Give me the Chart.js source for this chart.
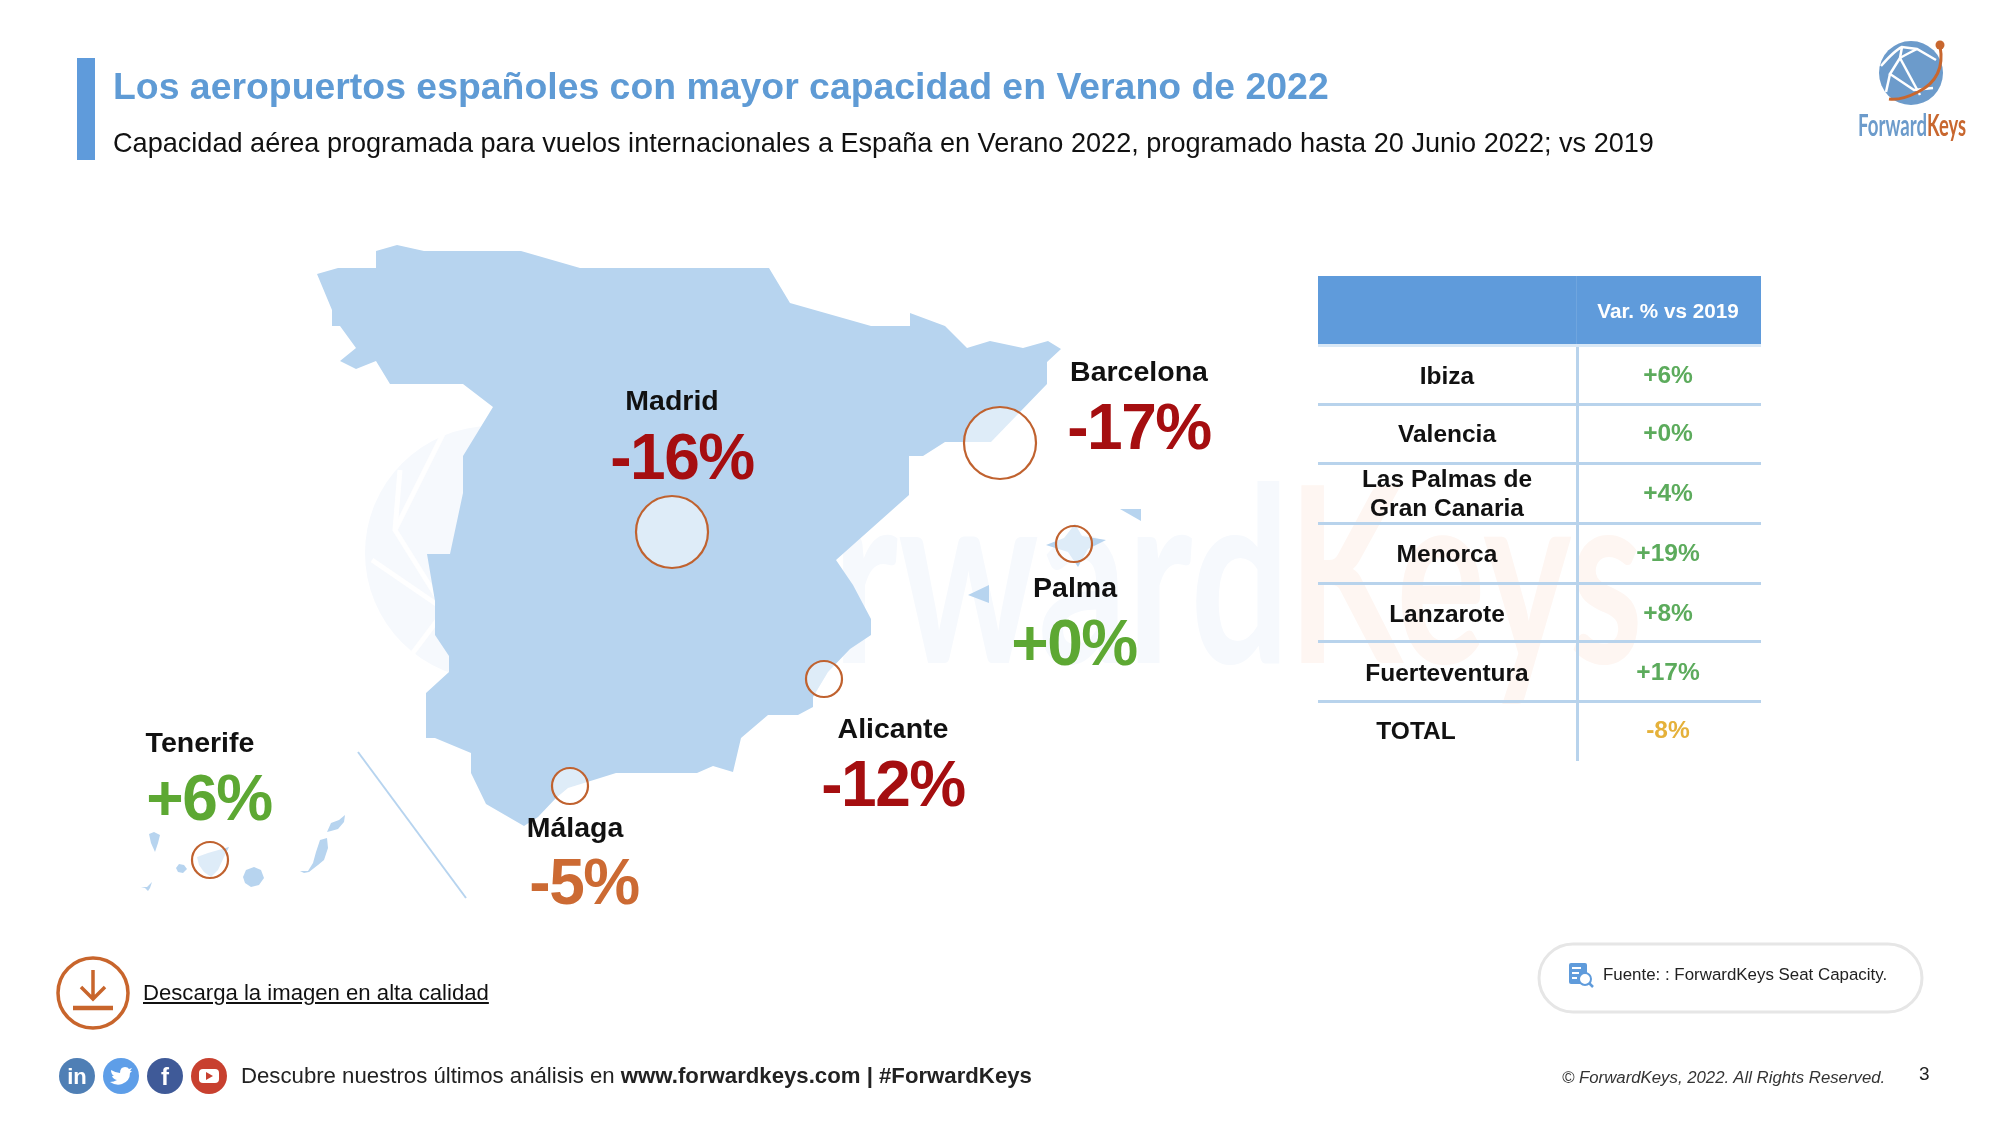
<!DOCTYPE html>
<html lang="es">
<head>
<meta charset="utf-8">
<title>Los aeropuertos españoles con mayor capacidad en Verano de 2022</title>
<script src="https://cdn.jsdelivr.net/npm/chart.js@4/dist/chart.umd.js"></script>
<style>
  html, body { margin: 0; padding: 0; background: #fff; }
  body { width: 2000px; height: 1125px; position: relative; overflow: hidden; font-family: "Liberation Sans", Arial, sans-serif; color: #111; }
  .abs { position: absolute; white-space: nowrap; }
  #watermark, #decor { position: absolute; left: 0; top: 0; }
  #map { position: absolute; left: 0; top: 0; }
  .cell { position: absolute; transform: translate(-50%, -50%); white-space: nowrap; font-weight: bold; text-align: center; }
  .hline { position: absolute; height: 2.5px; background: #B8D3EC; }
</style>
</head>
<body>

<!-- faint brand watermark behind the map -->
<svg id="watermark" width="2000" height="1125">
  <circle cx="492" cy="553" r="127" fill="#F6F9FD"/>
  <g stroke="#fff" stroke-width="5" fill="none">
    <path d="M400 470 L395 530 L445 610 L400 670"/>
    <path d="M445 430 L395 530"/>
    <path d="M445 610 L372 560"/>
  </g>
  <text x="640" y="663" font-family="Lato" font-weight="bold" font-size="245" fill="#F6F9FD" textLength="650" lengthAdjust="spacingAndGlyphs">Forward</text>
  <text x="1288" y="663" font-family="Lato" font-weight="bold" font-size="245" fill="#FEF6F2" textLength="355" lengthAdjust="spacingAndGlyphs">Keys</text>
</svg>

<canvas id="map" width="2000" height="1125"></canvas>

<svg id="decor" width="2000" height="1125">
  <!-- logo -->
  <circle cx="1911" cy="73" r="32" fill="#6C9BCB"/>
  <g stroke="#fff" stroke-width="2.5" fill="none">
    <path d="M1881 66 Q1895 50 1902 47 L1917 49 L1936 60"/>
    <path d="M1902 47 L1900 58 L1890 74 L1914 90 L1933 88"/>
    <path d="M1917 49 Q1905 55 1900 58"/>
    <path d="M1890 74 L1886 92"/>
    <path d="M1900 58 L1920 95"/>
  </g>
  <path d="M1940 46 Q1946 78 1918 92 Q1900 101 1889 99" stroke="#C8672F" stroke-width="3" fill="none"/>
  <circle cx="1940" cy="45" r="4.5" fill="#C8672F"/>
  <text x="1858" y="136" font-family="Lato" font-weight="bold" font-size="31" fill="#6C9BCB" textLength="69" lengthAdjust="spacingAndGlyphs">Forward</text>
  <text x="1927" y="136" font-family="Lato" font-weight="bold" font-size="31" fill="#C8672F" textLength="39" lengthAdjust="spacingAndGlyphs">Keys</text>

  <!-- download icon -->
  <circle cx="93" cy="993" r="35" fill="none" stroke="#C8652C" stroke-width="3.5"/>
  <path d="M93 970 V999 M81 987 L93 999 L105 987" fill="none" stroke="#C8652C" stroke-width="3.5"/>
  <path d="M73 1008 H113" stroke="#C8652C" stroke-width="4.5"/>

  <!-- social icons -->
  <g transform="translate(0,-2)">
    <circle cx="77" cy="1078" r="18" fill="#4F7FB5"/>
    <text x="77" y="1086" font-family="Liberation Sans" font-weight="bold" font-size="22" fill="#fff" text-anchor="middle">in</text>
    <circle cx="121" cy="1078" r="18" fill="#5E9EE8"/>
    <path d="M111 1072 Q116 1075 120 1075 Q120 1069 125 1069 Q128 1069 129 1071 L132 1070 L130 1073 L132 1073 L130 1075 Q130 1083 122 1086 Q116 1088 110 1084 Q114 1084 117 1082 Q113 1081 112 1078 L114 1078 Q111 1076 111 1072 Z" fill="#fff"/>
    <circle cx="165" cy="1078" r="18" fill="#3F5A98"/>
    <text x="165" y="1087" font-family="Liberation Sans" font-weight="bold" font-size="24" fill="#fff" text-anchor="middle">f</text>
    <circle cx="209" cy="1078" r="18" fill="#C8402F"/>
    <rect x="199" y="1071" width="20" height="14" rx="4" fill="#fff"/>
    <path d="M206 1074 L213 1078 L206 1082 Z" fill="#C8402F"/>
  </g>

  <!-- source pill -->
  <rect x="1539" y="944" width="383" height="68" rx="34" fill="#fff" stroke="#E6E6E6" stroke-width="3"/>
  <g transform="translate(-5,-3)">
    <rect x="1574" y="966" width="18" height="21" rx="2" fill="#5F9BDB"/>
    <path d="M1577 971 H1586 M1577 976 H1584 M1577 981 H1582" stroke="#fff" stroke-width="2"/>
    <circle cx="1590" cy="982" r="6" fill="#fff" stroke="#5F9BDB" stroke-width="2"/>
    <path d="M1594 986 L1598 990" stroke="#5F9BDB" stroke-width="2.5"/>
  </g>
</svg>

<div class="abs" style="left:77px;top:58px;width:18px;height:102px;background:#5F9BDB"></div>
<div class="abs" style="left:113px;top:65px;font-size:37.4px;font-weight:bold;color:#5F9BD5">Los aeropuertos españoles con mayor capacidad en Verano de 2022</div>
<div class="abs" style="left:113px;top:127px;font-size:27.1px">Capacidad aérea programada para vuelos internacionales a España en Verano 2022, programado hasta 20 Junio 2022; vs 2019</div>

<div id="table"></div>

<div class="abs" style="left:143px;top:980px;font-size:22.15px;text-decoration:underline">Descarga la imagen en alta calidad</div>
<div class="abs" style="left:241px;top:1063px;font-size:22.2px;color:#222">Descubre nuestros últimos análisis en <b>www.forwardkeys.com | #ForwardKeys</b></div>
<div class="abs" style="left:1603px;top:965px;font-size:16.9px;color:#222">Fuente: : ForwardKeys Seat Capacity.</div>
<div class="abs" style="left:1562px;top:1068px;font-size:16.8px;font-style:italic;color:#333">© ForwardKeys, 2022. All Rights Reserved.</div>
<div class="abs" style="left:1919px;top:1063px;font-size:19px;color:#222">3</div>

<script>
// DATA

// main airports on the map, % vs 2019
const airports = ['Madrid', 'Barcelona', 'Palma', 'Alicante', 'Málaga', 'Tenerife'];
const airportChange = [-16, -17, 0, -12, -5, 6];
const airportX = [672, 1000, 1074, 824, 570, 210];
const airportY = [532, 443, 544, 679, 786, 860];
const airportSize = [36, 36, 18, 18, 18, 18];

// rest of the airports, table on the right
const tableAirports = ['Ibiza', 'Valencia', 'Las Palmas de<br>Gran Canaria', 'Menorca', 'Lanzarote', 'Fuerteventura', 'TOTAL'];
const tableChange = [6, 0, 4, 19, 8, 17, -8];
const tableHeader = 'Var. % vs 2019';

// map outlines
const spainX = [317, 338, 376, 376, 397, 424, 521, 580, 769, 790, 871, 910, 910, 945, 967, 990, 1023, 1048, 1061, 1047, 1047, 991, 945, 923, 909, 909, 836, 853, 871, 871, 850, 828, 813, 813, 798, 768, 741, 733, 713, 697, 616, 568, 556, 538, 524, 486, 471, 471, 435, 426, 426, 449, 449, 435, 435, 427, 450, 463, 463, 493, 463, 390, 376, 356, 340, 356, 340, 332, 332, 317];
const spainY = [274, 268, 268, 251, 245, 251, 251, 268, 268, 303, 326, 326, 313, 326, 348, 341, 348, 341, 349, 362, 384, 442, 442, 456, 456, 495, 560, 585, 619, 635, 649, 672, 697, 707, 715, 715, 738, 772, 766, 773, 773, 788, 798, 817, 826, 804, 773, 753, 738, 738, 693, 672, 656, 635, 601, 554, 554, 493, 456, 407, 384, 384, 361, 369, 361, 348, 326, 326, 310, 274];
const mallorcaX = [1046, 1064, 1075, 1082, 1106, 1088, 1078, 1068, 1046];
const mallorcaY = [545, 538, 524, 536, 540, 549, 567, 552, 545];
const menorcaX = [1120, 1141, 1141, 1120];
const menorcaY = [509, 509, 521, 509];
const ibizaX = [968, 989, 989, 968];
const ibizaY = [595, 585, 603, 595];
const laPalmaX = [149, 154, 160, 158, 155, 151, 149];
const laPalmaY = [834, 832, 835, 843, 852, 843, 834];
const hierroX = [141, 147, 152, 150, 148, 145, 141];
const hierroY = [887, 887, 882, 888, 891, 888, 887];
const gomeraX = [176, 179, 184, 187, 183, 178, 176];
const gomeraY = [868, 864, 865, 869, 873, 872, 868];
const tenerifeX = [197, 208, 222, 229, 224, 218, 211, 204, 199, 197];
const tenerifeY = [857, 853, 849, 847, 857, 870, 877, 872, 865, 857];
const granCanariaX = [243, 246, 254, 261, 264, 259, 251, 245, 243];
const granCanariaY = [877, 870, 867, 870, 878, 885, 887, 883, 877];
const fuerteX = [300, 308, 313, 316, 320, 327, 328, 324, 318, 309, 304, 300];
const fuerteY = [871, 871, 863, 852, 840, 838, 848, 860, 865, 872, 873, 871];
const lanzaroteX = [327, 331, 339, 345, 344, 338, 331, 327];
const lanzaroteY = [832, 823, 820, 815, 822, 829, 831, 832];
const dividerX = [358, 466];
const dividerY = [752, 898];

// VIEW

const MAP_BLUE = '#B7D4EF';
const RED = '#A50E10';
const ORANGE = '#CC6A33';
const GREEN = '#5DA833';

const fmt = (v) => (v < 0 ? '' : '+') + v + '%';
const changeColor = (v) => {
  if (v >= 0) return GREEN;
  return v <= -10 ? RED : ORANGE;
};
const toPoints = (xs, ys) => xs.map((x, i) => ({ x, y: ys[i] }));

const shape = (xs, ys) => ({
  type: 'scatter',
  data: toPoints(xs, ys),
  showLine: true,
  fill: 'shape',
  order: 2,
  backgroundColor: MAP_BLUE,
  borderColor: MAP_BLUE,
  borderWidth: 0,
  pointRadius: 0,
  tension: 0
});

// label centres for the airport names and the % figures
const nameAt = [[672, 402], [1139, 373], [1075, 589], [893, 730], [575, 829], [200, 744]];
const pctAt = [[682, 461], [1139, 431], [1074, 647], [893, 788], [584, 886], [209, 802]];

const airportLabels = {
  id: 'airportLabels',
  afterDatasetsDraw(chart) {
    const { ctx, scales } = chart;
    ctx.save();
    ctx.textAlign = 'center';
    ctx.textBaseline = 'middle';
    airports.forEach((name, i) => {
      ctx.fillStyle = '#111';
      ctx.font = 'bold 28.5px "Liberation Sans"';
      ctx.letterSpacing = '0px';
      ctx.fillText(name, scales.x.getPixelForValue(nameAt[i][0]), scales.y.getPixelForValue(nameAt[i][1]));
      ctx.fillStyle = changeColor(airportChange[i]);
      ctx.font = 'bold 64px "Liberation Sans"';
      ctx.letterSpacing = '-1.5px';
      ctx.fillText(fmt(airportChange[i]), scales.x.getPixelForValue(pctAt[i][0]), scales.y.getPixelForValue(pctAt[i][1]));
    });
    ctx.restore();
  }
};

new Chart(document.getElementById('map'), {
  data: {
    datasets: [
      {
        type: 'bubble',
        data: airportX.map((x, i) => ({ x, y: airportY[i], r: airportSize[i] })),
        order: 1,
        backgroundColor: 'rgba(255,255,255,0.55)',
        borderColor: '#C0622F',
        borderWidth: 2.2
      },
      shape(spainX, spainY),
      shape(mallorcaX, mallorcaY),
      shape(menorcaX, menorcaY),
      shape(ibizaX, ibizaY),
      shape(laPalmaX, laPalmaY),
      shape(hierroX, hierroY),
      shape(gomeraX, gomeraY),
      shape(tenerifeX, tenerifeY),
      shape(granCanariaX, granCanariaY),
      shape(fuerteX, fuerteY),
      shape(lanzaroteX, lanzaroteY),
      {
        type: 'scatter',
        data: toPoints(dividerX, dividerY),
        showLine: true,
        order: 2,
        borderColor: MAP_BLUE,
        borderWidth: 2,
        pointRadius: 0
      }
    ]
  },
  options: {
    responsive: false,
    animation: false,
    events: [],
    layout: { padding: 0, autoPadding: false },
    plugins: { legend: { display: false }, tooltip: { enabled: false } },
    scales: {
      x: { type: 'linear', display: false, min: 0, max: 2000 },
      y: { type: 'linear', display: false, min: 0, max: 1125, reverse: true }
    }
  },
  plugins: [airportLabels]
});

// table
const tableBox = document.getElementById('table');
const rowY = [375, 433, 493, 553, 613, 672, 730];
const lineY = [403, 462, 522, 582, 640, 700];

const addEl = (cls, css, html) => {
  const el = document.createElement('div');
  el.className = cls;
  el.style.cssText = css;
  if (html) el.innerHTML = html;
  tableBox.appendChild(el);
};

addEl('abs', 'left:1323px;top:276px;width:443px;height:68px;background:#5F9BDB');
addEl('abs', 'left:1581px;top:276px;width:1px;height:68px;background:#6FA5DE');
addEl('cell', 'left:1673px;top:311px;font-size:20.7px;color:#fff', tableHeader);
addEl('abs', 'left:1581px;top:344px;width:2.5px;height:417px;background:#B8D3EC');
lineY.forEach((y) => addEl('hline', `left:1323px;top:${y}px;width:443px`));
addEl('hline', 'left:1323px;top:344px;width:443px;background:#D9E8F6');

tableAirports.forEach((name, i) => {
  const isTotal = name === 'TOTAL';
  addEl('cell', `left:${isTotal ? 1421 : 1452}px;top:${rowY[i]}px;font-size:24.5px;line-height:29px`, name);
  const color = tableChange[i] < 0 ? '#E5B13A' : '#5CAB5C';
  addEl('cell', `left:1673px;top:${rowY[i]}px;font-size:24.5px;color:${color}`, fmt(tableChange[i]));
});

// table sits a few px further left in the source
tableBox.style.cssText = 'position:absolute;left:-5px;top:0';
</script>
</body>
</html>
